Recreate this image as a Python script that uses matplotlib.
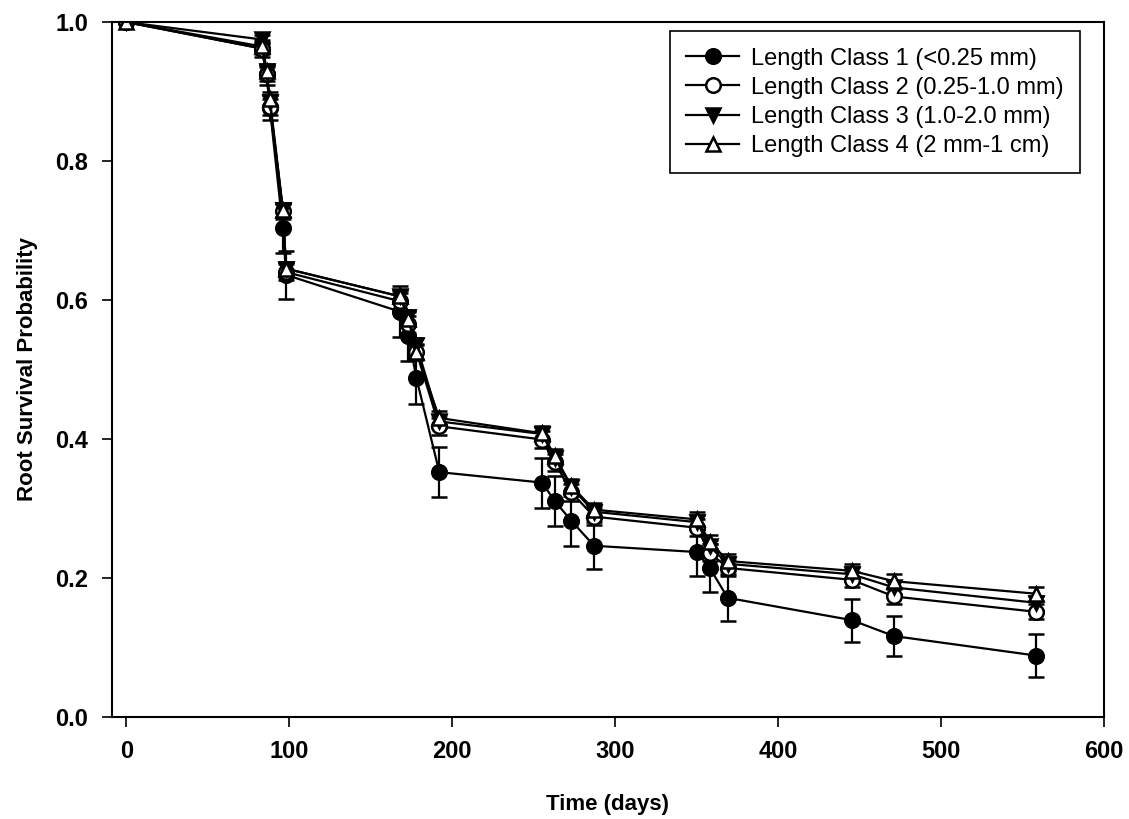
import numpy as np
import matplotlib.pyplot as plt

plt.rcParams['font.family'] = ['Liberation Sans', 'DejaVu Sans']

# days since start
dni = [0, 83, 86, 88, 96, 98, 168, 173, 178, 192, 255, 263, 273, 287, 350, 358, 369, 445, 471, 558]

klasa1 = [1.0, 0.962, 0.925, 0.877, 0.703, 0.636, 0.583, 0.548, 0.487, 0.352, 0.337, 0.310, 0.282, 0.246, 0.237, 0.214, 0.171, 0.139, 0.116, 0.088]
klasa2 = [1.0, 0.962, 0.925, 0.878, 0.728, 0.640, 0.598, 0.565, 0.525, 0.418, 0.399, 0.366, 0.323, 0.288, 0.272, 0.236, 0.214, 0.197, 0.173, 0.151]
klasa3 = [1.0, 0.975, 0.930, 0.885, 0.730, 0.645, 0.605, 0.575, 0.535, 0.425, 0.407, 0.372, 0.330, 0.295, 0.280, 0.245, 0.220, 0.205, 0.186, 0.164]
klasa4 = [1.0, 0.965, 0.930, 0.890, 0.730, 0.645, 0.605, 0.572, 0.525, 0.430, 0.408, 0.375, 0.332, 0.298, 0.284, 0.252, 0.224, 0.210, 0.195, 0.177]

blad1 = [0, 0.012, 0.015, 0.018, 0.035, 0.035, 0.037, 0.036, 0.037, 0.036, 0.036, 0.036, 0.036, 0.034, 0.034, 0.034, 0.034, 0.031, 0.029, 0.031]
blad2 = [0, 0.008, 0.010, 0.012, 0.012, 0.012, 0.012, 0.012, 0.012, 0.012, 0.012, 0.012, 0.012, 0.012, 0.012, 0.012, 0.012, 0.011, 0.011, 0.011]
blad3 = [0, 0.006, 0.008, 0.010, 0.010, 0.010, 0.010, 0.010, 0.010, 0.010, 0.010, 0.010, 0.010, 0.010, 0.010, 0.010, 0.010, 0.010, 0.010, 0.010]
blad4 = [0, 0.006, 0.008, 0.010, 0.010, 0.010, 0.010, 0.010, 0.010, 0.010, 0.010, 0.010, 0.010, 0.010, 0.010, 0.010, 0.010, 0.010, 0.010, 0.010]

etykiety = ['Length Class 1 (<0.25 mm)', 'Length Class 2 (0.25-1.0 mm)',
            'Length Class 3 (1.0-2.0 mm)', 'Length Class 4 (2 mm-1 cm)']

fig = plt.figure(figsize=(11.29, 8.19), dpi=100)
ax = fig.add_axes([0.099, 0.125, 0.879, 0.848])

serie = [(klasa1, blad1, 'o', 'black'),
         (klasa2, blad2, 'o', 'white'),
         (klasa3, blad3, 'v', 'black'),
         (klasa4, blad4, '^', 'white')]

linie = []
for (y, e, m, fc), lab in zip(serie, etykiety):
    c = ax.errorbar(dni, y, yerr=e, fmt='-', marker=m, color='black', mfc=fc, mec='black',
                    ms=10.5, mew=1.8, lw=1.6, capsize=6, elinewidth=1.6, capthick=1.6)
    linie.append(c[0])

ax.set_xlim(-9, 600)
ax.set_ylim(0, 1.0)
ax.set_xticks(range(0, 601, 100))
ax.set_yticks(np.arange(0, 1.01, 0.2))
ax.set_yticklabels(['0.0', '0.2', '0.4', '0.6', '0.8', '1.0'])
ax.tick_params(direction='out', length=7, width=1.2, labelsize=17, pad=10)
for t in ax.get_xticklabels() + ax.get_yticklabels():
    t.set_fontweight('bold')
for s in ax.spines.values():
    s.set_linewidth(1.5)

ax.set_xlabel('Time (days)', fontsize=16, fontweight='bold', labelpad=22)
ax.set_ylabel('Root Survival Probability', fontsize=16, fontweight='bold', labelpad=12)

leg = ax.legend(linie, etykiety, loc='upper right', bbox_to_anchor=(0.976, 0.987), borderaxespad=0,
                fontsize=17, fancybox=False, edgecolor='black', framealpha=1,
                handlelength=2.25, labelspacing=0.3, borderpad=0.7, handletextpad=0.5)
leg.get_frame().set_linewidth(1.2)

plt.savefig('out.png', dpi=100)
